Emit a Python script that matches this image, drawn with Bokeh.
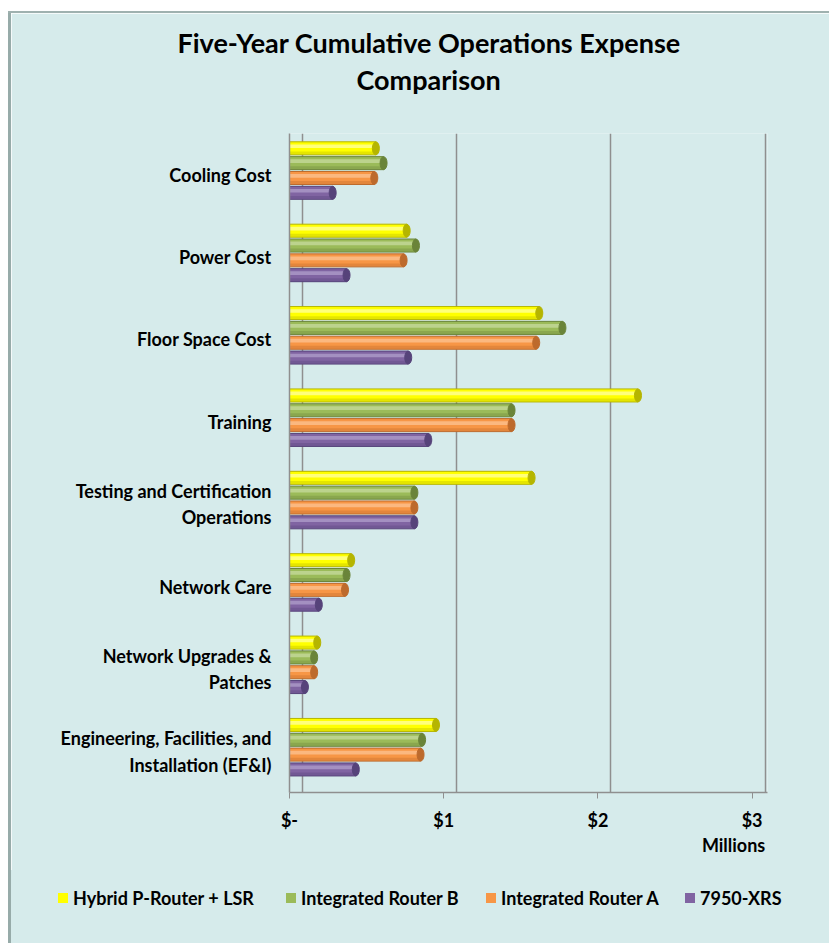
from bokeh.plotting import figure
from bokeh.models import (ColumnDataSource, FactorRange, Title, Div,
                          FixedTicker, Range1d, Spacer, LinearAxis)
from bokeh.layouts import column, row
from bokeh.transform import dodge
from bokeh.embed import file_html
from bokeh.resources import INLINE

# ---------------- data ----------------
categories = ["Cooling Cost", "Power Cost", "Floor Space Cost", "Training",
              "Testing and Certification\nOperations", "Network Care",
              "Network Upgrades &\nPatches",
              "Engineering, Facilities, and\nInstallation (EF&I)"]
series_names = ["Hybrid P-Router + LSR", "Integrated Router B",
                "Integrated Router A", "7950-XRS"]
hybrid = [0.56, 0.76, 1.62, 2.26, 1.57, 0.40, 0.18, 0.95]
router_b = [0.61, 0.82, 1.77, 1.44, 0.81, 0.37, 0.16, 0.86]
router_a = [0.55, 0.74, 1.60, 1.44, 0.81, 0.36, 0.16, 0.85]
xrs = [0.28, 0.37, 0.77, 0.90, 0.81, 0.19, 0.10, 0.43]
x_ticks = [0, 1, 2, 3]
x_tick_labels = ["$-", "$1", "$2", "$3"]
title_lines = ["Five-Year Cumulative Operations Expense", "Comparison"]
unit_label = "Millions"
unit_label_pos = 2.88

# ---------------- styling ----------------
BG = "#d6ebeb"
FONT = "Lato"
main_colors = ["#ffff00", "#9bbb59", "#f79646", "#8064a2"]
light_colors = ["#ffff9a", "#c4d99a", "#fbc08f", "#ad9bc9"]
dark_colors = ["#b5b500", "#6a8439", "#bd6a2c", "#56437a"]
offsets = [0.32, 0.14, -0.04, -0.22]
bar_h = 0.158
legend_x = [47, 275, 475, 674]   # left edge of each legend swatch (px)

src = ColumnDataSource(dict(cat=categories, s0=hybrid, s1=router_b, s2=router_a, s3=xrs))

p = figure(width=818, height=857, frame_width=478, frame_height=659,
           min_border_left=278, min_border_right=62, min_border_top=120,
           min_border_bottom=78,
           y_range=FactorRange(factors=list(reversed(categories))),
           x_range=Range1d(0, 3.1),
           output_backend="svg", toolbar_location=None, title=None)
p.background_fill_color = BG
p.border_fill_color = BG
p.outline_line_color = None

# title block: a blank spacer line next to the frame, then line 2, then line 1
p.add_layout(Title(text=" ", align="left", standoff=23, vertical_align="bottom",
                   text_font=FONT, text_font_size="10px"), "above")
p.add_layout(Title(text=title_lines[1], align="left", offset=67, standoff=2,
                   vertical_align="bottom", text_font=FONT, text_font_style="bold",
                   text_font_size="27px", text_color="#000000"), "above")
p.add_layout(Title(text=title_lines[0], align="left", offset=-112, standoff=2,
                   vertical_align="bottom", text_font=FONT, text_font_style="bold",
                   text_font_size="27px", text_color="#000000"), "above")

for i in range(4):
    col = "s%d" % i
    p.hbar(y=dodge("cat", offsets[i], range=p.y_range), left=0, right=col,
           height=bar_h, source=src, fill_color=main_colors[i],
           line_color=dark_colors[i], line_width=1)
    p.hbar(y=dodge("cat", offsets[i] - 0.055, range=p.y_range), left=0, right=col,
           height=0.035, source=src, fill_color=dark_colors[i], fill_alpha=0.35,
           line_color=None)
    p.hbar(y=dodge("cat", offsets[i] + 0.025, range=p.y_range), left=0, right=col,
           height=0.045, source=src, fill_color=light_colors[i], fill_alpha=0.8,
           line_color=None)
    p.ellipse(x=col, y=dodge("cat", offsets[i], range=p.y_range), width=7,
              height=13, width_units="screen", height_units="screen",
              source=src, fill_color=dark_colors[i], line_color=dark_colors[i])

# grid (back wall of the 3D chart)
p.ygrid.grid_line_color = None
p.xgrid.ticker = FixedTicker(ticks=[t + 0.084 for t in x_ticks])
p.xgrid.grid_line_color = "#8f8f8f"
p.xgrid.grid_line_width = 1.5

# x axis
xa = p.xaxis[0]
xa.ticker = FixedTicker(ticks=x_ticks)
xa.major_label_overrides = {t: l for t, l in zip(x_ticks, x_tick_labels)}
xa.axis_line_color = "#8f8f8f"
xa.axis_line_width = 1.5
xa.major_tick_line_color = "#8f8f8f"
xa.major_tick_out = 6
xa.major_tick_in = 0
xa.minor_tick_line_color = None
xa.major_label_standoff = 10
xa.major_label_text_font = FONT
xa.major_label_text_font_style = "bold"
xa.major_label_text_font_size = "18px"
xa.major_label_text_color = "#000000"

# "Millions" unit label, as a second tick-less axis below
ua = LinearAxis(ticker=FixedTicker(ticks=[unit_label_pos]),
                major_label_overrides={unit_label_pos: unit_label},
                axis_line_color=None, major_tick_line_color=None,
                minor_tick_line_color=None, major_tick_out=0, major_tick_in=0,
                major_label_standoff=0, major_label_text_font=FONT,
                major_label_text_font_style="bold",
                major_label_text_font_size="18px",
                major_label_text_color="#000000")
p.add_layout(ua, "below")

# y axis
ya = p.yaxis[0]
ya.axis_line_color = "#8f8f8f"
ya.axis_line_width = 1.5
ya.major_tick_line_color = None
ya.major_tick_out = 0
ya.major_label_standoff = 18
ya.major_label_text_font = FONT
ya.major_label_text_font_style = "bold"
ya.major_label_text_font_size = "18px"
ya.major_label_text_color = "#000000"

# legend strip below the chart
items = []
for name, color, lx in zip(series_names, main_colors, legend_x):
    items.append(
        '<span style="position:absolute;left:%dpx;top:23px;width:10px;height:10px;'
        'background:%s;"></span>'
        '<span style="position:absolute;left:%dpx;top:17px;line-height:22px;'
        'white-space:nowrap;">%s</span>' % (lx, color, lx + 15, name))
legend_html = ('<div style="position:relative;width:818px;height:73px;'
               'font-family:Lato;font-weight:bold;font-size:18px;color:#000;">'
               + "".join(items) + "</div>")
legend_div = Div(text=legend_html, width=818, height=73,
                 styles={"background-color": BG, "margin": "0", "padding": "0"})

top = row(Spacer(width=8, height=2),
          Spacer(width=821, height=2, styles={"background-color": "#9fb1af"}))
mid = row(Spacer(width=8, height=930),
          Spacer(width=3, height=930, styles={"background-color": "#97aba9"}),
          column(p, legend_div))
layout = column(Spacer(width=829, height=11), top, mid)

open("out.html", "w").write(file_html(layout, INLINE))
